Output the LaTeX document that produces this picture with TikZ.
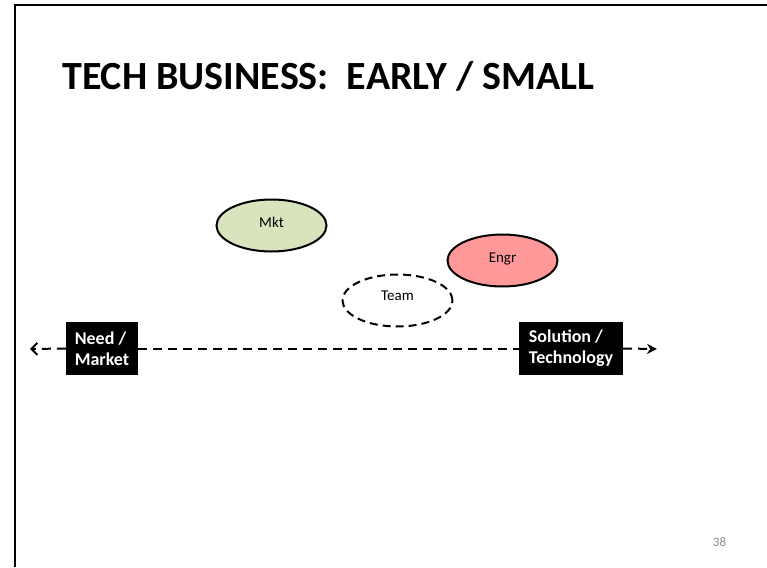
\documentclass[tikz,border=0pt]{standalone}
\usepackage{fontspec}
\setmainfont{Carlito}
\usetikzlibrary{arrows.meta,shapes.geometric}
\definecolor{mktgreen}{HTML}{D7E4BD}
\definecolor{engrred}{HTML}{FF9999}
\definecolor{pagegray}{HTML}{8C8C8C}
\tikzset{
  blob/.style={ellipse, draw=black, line width=2pt, minimum width=110pt, minimum height=52pt, inner sep=0pt, font=\fontsize{15}{18}\selectfont},
  tagbox/.style={fill=black, text=white, align=left, font=\bfseries\fontsize{18}{21}\selectfont, minimum height=53pt, inner xsep=8pt, inner ysep=2pt},
  axis/.style={line width=2pt, dash pattern=on 9pt off 6pt}
}
\begin{document}
\begin{tikzpicture}[x=1pt,y=-1pt]
\useasboundingbox (0,0) rectangle (767,567);
\draw[line width=2.5pt] (15,567) -- (15,5) -- (767,5);
\node[anchor=base west, inner sep=0pt, font=\bfseries\fontsize{40}{48}\selectfont] (title) at (62,89) {TECH BUSINESS:\ \ EARLY / SMALL};

\node[blob, fill=mktgreen] (mkt) at (271.5,225.5) {\raisebox{7pt}{Mkt}};
\node[blob, fill=engrred] (engr) at (502.5,260.5) {\raisebox{5pt}{Engr}};
\node[blob, dash pattern=on 8pt off 5pt] (team) at (397.5,300.5) {\raisebox{9pt}{Team}};

\coordinate (L) at (30,349);
\coordinate (R) at (657,349);
\node[tagbox, minimum width=72pt] (need) at (102,348.5) {Need /\\Market};
\node[tagbox, minimum width=104pt] (sol) at (571,348.5) {Solution /\\Technology};
\draw[axis, -{Straight Barb[length=6pt,width=12pt,line width=2pt]}] (need.west) -- (L);
\draw[axis] (need.east) -- (sol.west);
\draw[axis, -{Stealth[length=10pt,width=10pt]}] (sol.east) -- (R);

\node[text=pagegray, font=\fontsize{13}{15}\selectfont] (pg) at (719.5,542) {38};
\end{tikzpicture}
\end{document}
